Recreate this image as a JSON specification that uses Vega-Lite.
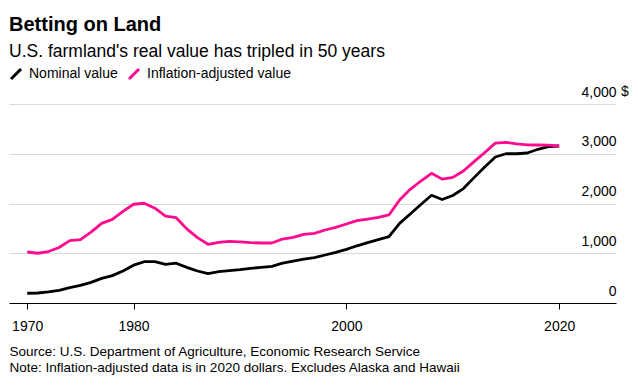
{
  "$schema": "https://vega.github.io/schema/vega-lite/v6.json",
  "width": 607,
  "height": 199,
  "autosize": {"type": "none"},
  "padding": {"left": 9, "top": 104, "right": 22, "bottom": 82},
  "background": "white",
  "config": {"view": {"stroke": null}, "font": "Liberation Sans"},
  "title": {
    "text": "Betting on Land",
    "subtitle": "U.S. farmland's real value has tripled in 50 years",
    "anchor": "start",
    "frame": "group",
    "font": "Liberation Sans",
    "fontSize": 20,
    "fontWeight": "bold",
    "color": "#000000",
    "subtitleFont": "Liberation Sans",
    "subtitleFontSize": 17.5,
    "subtitleColor": "#000000",
    "subtitlePadding": 8,
    "offset": 7
  },
  "layer": [
    {
      "data": {"name": "farmland", "values": [
        {"year": 1970, "Nominal value": 196, "Inflation-adjusted value": 1025},
        {"year": 1971, "Nominal value": 201, "Inflation-adjusted value": 1000},
        {"year": 1972, "Nominal value": 222, "Inflation-adjusted value": 1035},
        {"year": 1973, "Nominal value": 255, "Inflation-adjusted value": 1115},
        {"year": 1974, "Nominal value": 310, "Inflation-adjusted value": 1255},
        {"year": 1975, "Nominal value": 355, "Inflation-adjusted value": 1275},
        {"year": 1976, "Nominal value": 415, "Inflation-adjusted value": 1425},
        {"year": 1977, "Nominal value": 495, "Inflation-adjusted value": 1600},
        {"year": 1978, "Nominal value": 550, "Inflation-adjusted value": 1680},
        {"year": 1979, "Nominal value": 645, "Inflation-adjusted value": 1840},
        {"year": 1980, "Nominal value": 760, "Inflation-adjusted value": 1985},
        {"year": 1981, "Nominal value": 830, "Inflation-adjusted value": 2005},
        {"year": 1982, "Nominal value": 830, "Inflation-adjusted value": 1905},
        {"year": 1983, "Nominal value": 775, "Inflation-adjusted value": 1745},
        {"year": 1984, "Nominal value": 800, "Inflation-adjusted value": 1715},
        {"year": 1985, "Nominal value": 717, "Inflation-adjusted value": 1490},
        {"year": 1986, "Nominal value": 643, "Inflation-adjusted value": 1315},
        {"year": 1987, "Nominal value": 592, "Inflation-adjusted value": 1180},
        {"year": 1988, "Nominal value": 630, "Inflation-adjusted value": 1220},
        {"year": 1989, "Nominal value": 650, "Inflation-adjusted value": 1240},
        {"year": 1990, "Nominal value": 670, "Inflation-adjusted value": 1228},
        {"year": 1991, "Nominal value": 697, "Inflation-adjusted value": 1213},
        {"year": 1992, "Nominal value": 717, "Inflation-adjusted value": 1206},
        {"year": 1993, "Nominal value": 737, "Inflation-adjusted value": 1206},
        {"year": 1994, "Nominal value": 800, "Inflation-adjusted value": 1286},
        {"year": 1995, "Nominal value": 844, "Inflation-adjusted value": 1320},
        {"year": 1996, "Nominal value": 880, "Inflation-adjusted value": 1380},
        {"year": 1997, "Nominal value": 911, "Inflation-adjusted value": 1400},
        {"year": 1998, "Nominal value": 965, "Inflation-adjusted value": 1467},
        {"year": 1999, "Nominal value": 1018, "Inflation-adjusted value": 1521},
        {"year": 2000, "Nominal value": 1079, "Inflation-adjusted value": 1588},
        {"year": 2001, "Nominal value": 1150, "Inflation-adjusted value": 1655},
        {"year": 2002, "Nominal value": 1215, "Inflation-adjusted value": 1688},
        {"year": 2003, "Nominal value": 1273, "Inflation-adjusted value": 1722},
        {"year": 2004, "Nominal value": 1335, "Inflation-adjusted value": 1769},
        {"year": 2005, "Nominal value": 1600, "Inflation-adjusted value": 2070},
        {"year": 2006, "Nominal value": 1790, "Inflation-adjusted value": 2285},
        {"year": 2007, "Nominal value": 1980, "Inflation-adjusted value": 2452},
        {"year": 2008, "Nominal value": 2165, "Inflation-adjusted value": 2606},
        {"year": 2009, "Nominal value": 2080, "Inflation-adjusted value": 2490},
        {"year": 2010, "Nominal value": 2160, "Inflation-adjusted value": 2526},
        {"year": 2011, "Nominal value": 2300, "Inflation-adjusted value": 2653},
        {"year": 2012, "Nominal value": 2520, "Inflation-adjusted value": 2841},
        {"year": 2013, "Nominal value": 2735, "Inflation-adjusted value": 3022},
        {"year": 2014, "Nominal value": 2935, "Inflation-adjusted value": 3215},
        {"year": 2015, "Nominal value": 3000, "Inflation-adjusted value": 3230},
        {"year": 2016, "Nominal value": 3000, "Inflation-adjusted value": 3200},
        {"year": 2017, "Nominal value": 3015, "Inflation-adjusted value": 3180},
        {"year": 2018, "Nominal value": 3090, "Inflation-adjusted value": 3176},
        {"year": 2019, "Nominal value": 3142, "Inflation-adjusted value": 3175},
        {"year": 2020, "Nominal value": 3156, "Inflation-adjusted value": 3156}
      ]},
      "transform": [
        {"fold": ["Nominal value", "Inflation-adjusted value"], "as": ["series", "value"]},
        {"filter": "datum.series === 'Nominal value'"}
      ],
      "mark": {"type": "line", "strokeWidth": 2.8, "strokeJoin": "round", "strokeCap": "butt"},
      "encoding": {
        "x": {
          "field": "year", "type": "quantitative",
          "scale": {"domain": [1968.29, 2025.34], "nice": false, "zero": false},
          "axis": {
            "values": [1970, 1980, 2000, 2020],
            "format": "d",
            "grid": false,
            "domainColor": "#000000",
            "domainWidth": 1,
            "tickColor": "#000000",
            "tickSize": 6,
            "tickWidth": 1,
            "labelFont": "Liberation Sans",
            "labelFontSize": 14,
            "labelColor": "#000000",
            "labelPadding": 10,
            "labelFlush": false,
            "title": ["Source: U.S. Department of Agriculture, Economic Research Service", "Note: Inflation-adjusted data is in 2020 dollars. Excludes Alaska and Hawaii"],
            "titleAnchor": "start",
            "titleAlign": "left",
            "titleFont": "Liberation Sans",
            "titleFontSize": 13.5,
            "titleFontWeight": "normal",
            "titleColor": "#000000",
            "titleLineHeight": 16,
            "titlePadding": 11
          }
        },
        "y": {
          "field": "value", "type": "quantitative",
          "scale": {"domain": [0, 4000], "nice": false},
          "axis": {
            "orient": "right",
            "values": [0, 1000, 2000, 3000, 4000],
            "format": ",d",
            "title": null,
            "domain": false,
            "ticks": false,
            "grid": true,
            "gridColor": "#d9d9d9",
            "gridWidth": 1,
            "labelAlign": "right",
            "labelBaseline": "alphabetic",
            "labelOffset": -8,
            "labelPadding": 0,
            "labelFont": "Liberation Sans",
            "labelFontSize": 14,
            "labelColor": "#000000"
          }
        },
        "color": {
          "field": "series", "type": "nominal",
          "scale": {"domain": ["Nominal value", "Inflation-adjusted value"], "range": ["#000000", "#ff0a8e"]},
          "legend": {
            "title": null,
            "orient": "top",
            "direction": "horizontal",
            "symbolType": "M-1,1L1,-1",
            "symbolSize": 100,
            "symbolStrokeWidth": 3,
            "labelFont": "Liberation Sans",
            "labelFontSize": 14,
            "labelColor": "#000000",
            "labelOffset": 6,
            "columnPadding": 5,
            "padding": 0,
            "offset": 19
          }
        }
      }
    },
    {
      "data": {"name": "farmland"},
      "transform": [
        {"fold": ["Nominal value", "Inflation-adjusted value"], "as": ["series", "value"]},
        {"filter": "datum.series === 'Inflation-adjusted value'"}
      ],
      "mark": {"type": "line", "strokeWidth": 2.8, "strokeJoin": "round", "strokeCap": "butt"},
      "encoding": {
        "x": {"field": "year", "type": "quantitative"},
        "y": {"field": "value", "type": "quantitative"},
        "color": {"field": "series", "type": "nominal"}
      }
    },
    {
      "data": {"values": [{"label": "$", "year": 2025.34, "value": 4000}]},
      "mark": {"type": "text", "align": "left", "baseline": "alphabetic", "dx": 5, "dy": -8, "font": "Liberation Sans", "fontSize": 14, "color": "#000000"},
      "encoding": {
        "x": {"field": "year", "type": "quantitative"},
        "y": {"field": "value", "type": "quantitative"},
        "text": {"field": "label"}
      }
    }
  ]
}
